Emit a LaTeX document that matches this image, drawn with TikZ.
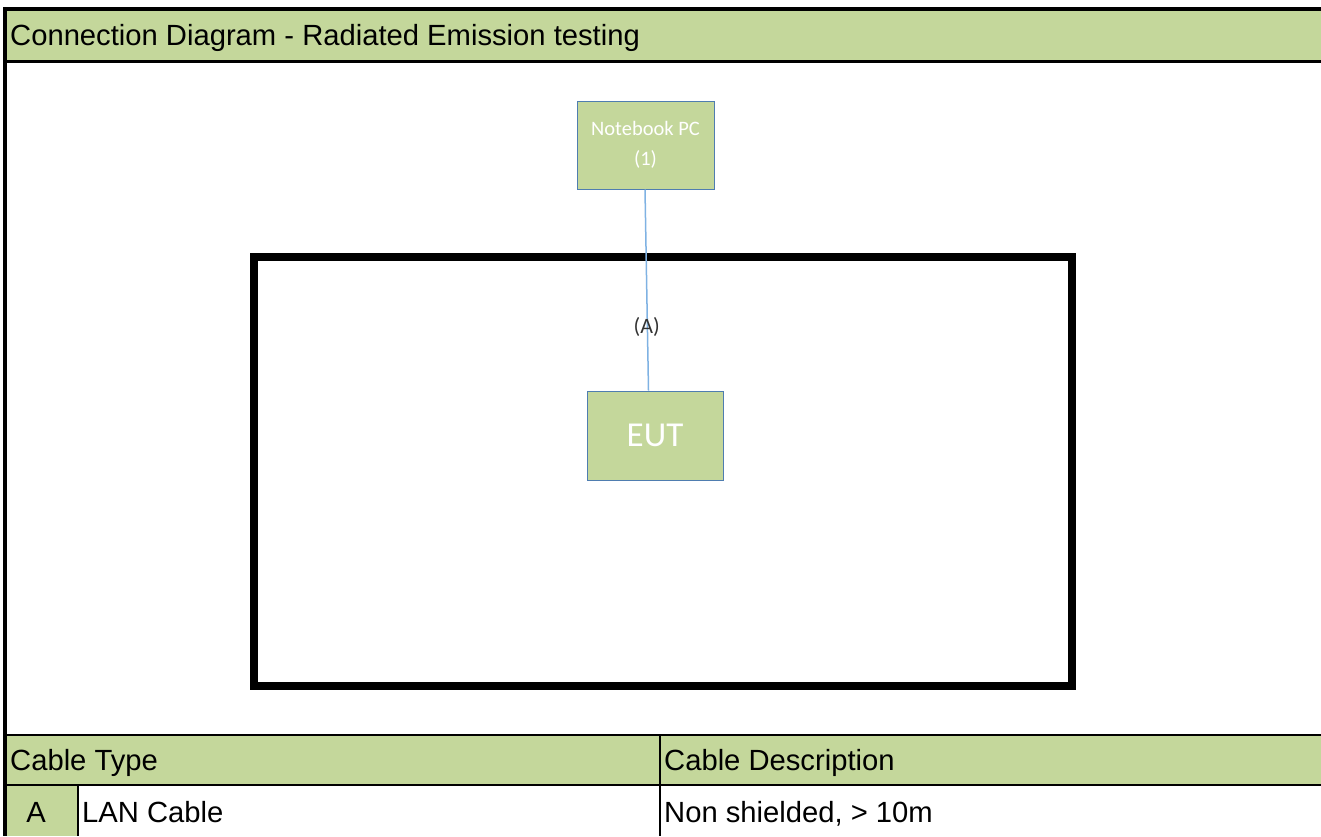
\documentclass[tikz,border=0pt]{standalone}
\usepackage{fontspec}
\setmainfont{Liberation Sans}
\newfontfamily\calibri{Carlito}
\usetikzlibrary{positioning}

\definecolor{cellgreen}{HTML}{C4D79B}
\definecolor{boxedge}{HTML}{4F7DB0}
\definecolor{cableblue}{HTML}{7FB2E3}

\begin{document}
\begin{tikzpicture}[
    x=1pt, y=-1pt,
    cell/.style={
        rectangle,
        fill=cellgreen,
        inner sep=0pt,
        anchor=north west
    },
    celltext/.style={
        anchor=base west,
        inner sep=0pt,
        font=\fontsize{29.2}{34}\selectfont
    },
    device/.style={
        rectangle,
        draw=boxedge,
        line width=1pt,
        fill=cellgreen,
        text=white,
        align=center,
        inner sep=0pt
    },
    rule/.style={
        draw=black,
        line width=#1
    }
]
\useasboundingbox (0,0) rectangle (1321,836);

% --- Title band ---
\node[cell, minimum width=1316pt, minimum height=52pt] (title_band) at (5,9) {};
\node[celltext] (title) at (10,45) {Connection Diagram - Radiated Emission testing};

% --- Test set-up ---
\node[draw, line width=7.5pt, minimum width=818pt, minimum height=429pt, inner sep=0pt] (chamber) at (663,471.5) {};

\node[device, minimum width=137pt, minimum height=88pt, font=\calibri\fontsize{20.5}{30}\selectfont] (notebook) at (645.5,145) {Notebook PC\\(1)};
\node[device, minimum width=136pt, minimum height=89pt, font=\calibri\fontsize{35}{40}\selectfont] (eut) at (655,435.5) {EUT};

\draw[cableblue, line width=1.5pt] ([xshift=-0.5pt]notebook.south) -- ([xshift=-6.5pt]eut.north);
\node[font=\calibri\fontsize{22}{26}\selectfont, text=black!80, inner sep=0pt] (cable_a) at (646.7,327) {(A)};

% --- Cable table ---
\node[cell, minimum width=1316pt, minimum height=50pt] (head_band) at (5,735) {};
\node[cell, minimum width=72.5pt, minimum height=51pt] (key_cell) at (5,785) {};

\node[celltext] (type_head) at (10,770) {Cable Type};
\node[celltext] (desc_head) at (664,770) {Cable Description};
\node[anchor=base, inner sep=0pt, font=\fontsize{29.2}{34}\selectfont] (key_a) at (36,822.5) {A};
\node[celltext] (type_a) at (82,822.5) {LAN Cable};
\node[celltext] (desc_a) at (664,822.5) {Non shielded, > 10m};

% --- Rules ---
\draw[rule=4pt] (3.3,9) -- (title_band.north east);
\draw[rule=2.5pt] (title_band.south west) -- (title_band.south east);
\draw[rule=2pt] (head_band.north west) -- (head_band.north east);
\draw[rule=2pt] (head_band.south west) -- (head_band.south east);
\draw[rule=2pt] (660,735) -- (660,836);
\draw[rule=2pt] (key_cell.north east) -- (key_cell.south east);
\draw[rule=4pt] (5.3,7) -- (5.3,836);

\end{tikzpicture}
\end{document}
